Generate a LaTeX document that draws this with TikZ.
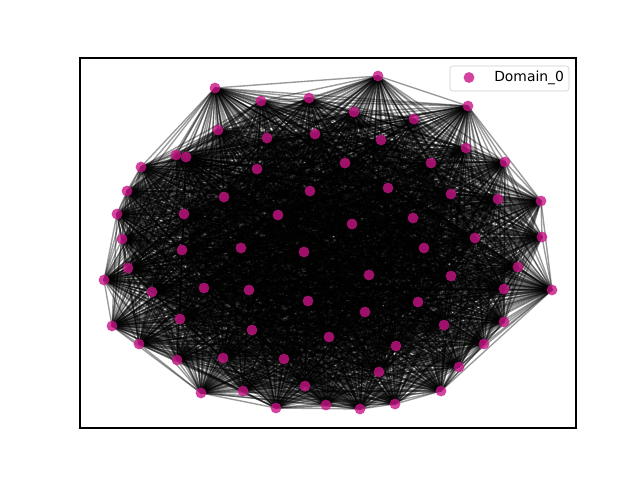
\documentclass[tikz,border=0pt]{standalone}
\usepackage{fontspec}
\setmainfont{DejaVu Sans}
\usetikzlibrary{backgrounds}
\definecolor{mvr}{RGB}{199,21,133}
\definecolor{legedge}{RGB}{204,204,204}
\tikzset{
  dot/.style={circle,inner sep=0pt,minimum size=7.8pt,fill=mvr,fill opacity=0.8,draw=none},
  edge/.style={draw=black,line width=1pt,draw opacity=0.4},
  frame/.style={draw=black,line width=0.8pt},
}
\begin{document}
\begin{tikzpicture}[x=0.72pt,y=-0.72pt]
\useasboundingbox (0,0) rectangle (640,480);
\foreach \x/\y [count=\i] in {
215/88,261/101,309/98,378/76,354/112,468/106,414/119,218/130,267/138,315/134,
381/140,466/148,176/155,186/157,141/167,257/169,345/163,431/163,505/162,127/191,
224/197,310/191,388/188,451/194,498/199,541/201,117/214,184/214,278/215,352/224,
413/218,122/239,241/248,304/252,182/250,475/238,542/237,424/248,128/268,518/267,
104/280,369/275,451/276,152/292,204/288,249/290,552/290,504/289,308/301,418/302,
180/319,112/326,365/312,504/322,252/330,329/337,444/325,139/344,223/358,396/346,
484/344,177/360,284/359,459/367,379/372,201/393,243/391,305/386,276/408,326/405,
360/409,395/404,441/391}
{\node[dot] (n\i) at (\x,\y) {};}
\begin{pgfonlayer}{background}
\foreach \i in {1,...,72}{
  \pgfmathtruncatemacro\k{\i+1}
  \foreach \j in {\k,...,73}{\draw[edge] (n\i.center) -- (n\j.center);}
}
\end{pgfonlayer}
\draw[frame] (80,58) rectangle (576,428);
\node[draw=legedge,fill=white,fill opacity=0.8,text opacity=1,rounded corners=2pt,minimum width=119*0.72pt,minimum height=25*0.72pt,inner sep=0pt] (leg) at (509.5,78.5) {};
\node[dot] (legdot) at (469,77.5) {};
\node[anchor=west,inner sep=0pt,font=\fontsize{10pt}{12pt}\selectfont] (legtext) at (494,77.5) {Domain\_0};
\end{tikzpicture}
\end{document}
